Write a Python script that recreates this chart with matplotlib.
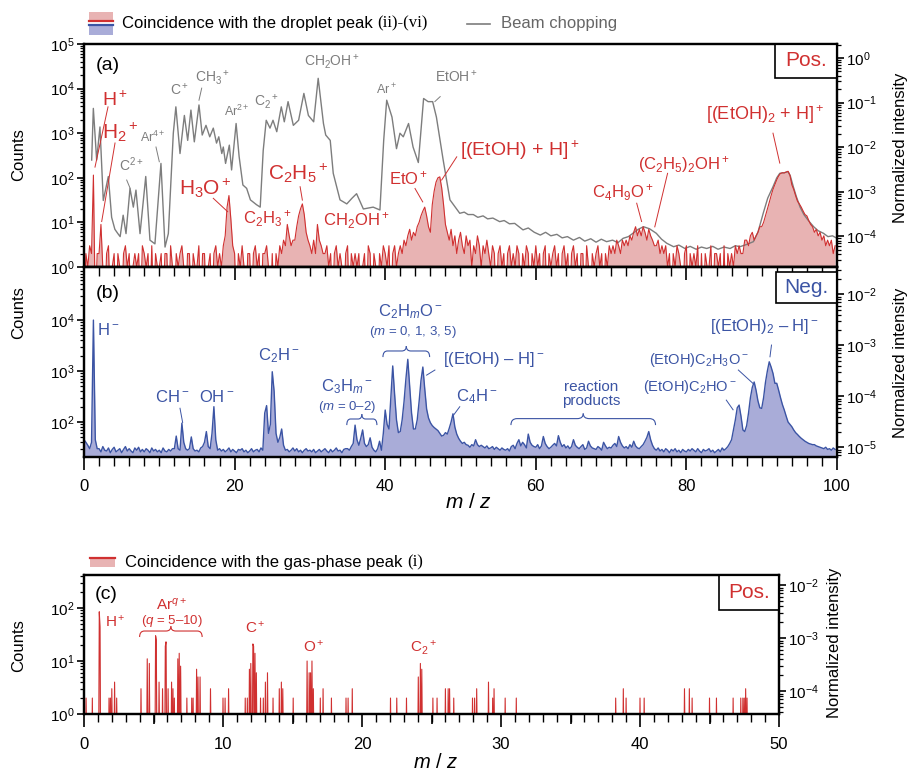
import numpy as np
import matplotlib
matplotlib.use("Agg")
import matplotlib.pyplot as plt
from matplotlib.path import Path
from matplotlib.patches import PathPatch, Rectangle
from matplotlib.lines import Line2D
from matplotlib.transforms import blended_transform_factory
from matplotlib.ticker import LogLocator, MultipleLocator, NullFormatter, NullLocator

plt.rcParams['font.family'] = ['Liberation Sans', 'DejaVu Sans']
plt.rcParams['mathtext.fontset'] = 'custom'
plt.rcParams['mathtext.rm'] = 'Liberation Sans'
plt.rcParams['mathtext.it'] = 'Liberation Sans:italic'
plt.rcParams['mathtext.bf'] = 'Liberation Sans:bold'

RED = '#d03030'
PINK = '#e8b3b3'
BLUE = '#3b54a4'
LAV = '#a9acd8'
GRAY = '#7d7d7d'

# ---------------- data ----------------
MZ_STEP = 0.25  # bin width of the (a) and (b) spectra

# (a) cations coincident with the droplet peak, counts per bin, m/z 0..99.75
drop_counts = [
    0, 2, 1, 3, 2, 115, 0, 2, 2, 9, 1, 0, 2, 3, 0, 1, 2, 0, 2, 1,
    0, 2, 3, 1, 2, 0, 1, 2, 1, 2, 0, 3, 2, 1, 2, 0, 3, 0, 2, 1,
    1, 2, 0, 2, 2, 0, 3, 1, 0, 2, 1, 2, 3, 1, 0, 2, 2, 0, 2, 1,
    1, 3, 0, 2, 2, 0, 1, 2, 0, 2, 3, 1, 2, 1, 3, 5, 22, 40, 12, 3,
    2, 0, 2, 1, 3, 1, 0, 2, 2, 0, 2, 3, 1, 2, 0, 2, 2, 3, 1, 0,
    2, 0, 2, 1, 3, 2, 4, 3, 9, 5, 3, 4, 4, 8, 14, 20, 26, 15, 6, 4,
    3, 2, 4, 2, 9, 4, 3, 2, 2, 3, 1, 2, 0, 2, 3, 1, 2, 1, 0, 2,
    3, 0, 2, 1, 2, 1, 2, 0, 1, 2, 0, 3, 2, 0, 2, 1, 0, 2, 1, 3,
    2, 1, 3, 0, 2, 3, 1, 2, 3, 2, 4, 3, 5, 7, 4, 6, 5, 8, 10, 14,
    18, 22, 14, 8, 6, 25, 50, 80, 100, 105, 60, 25, 9, 6, 4, 7, 3, 5, 2, 4,
    6, 3, 2, 5, 3, 4, 1, 3, 2, 5, 3, 1, 3, 2, 4, 2, 1, 3, 2, 0,
    2, 3, 1, 2, 0, 2, 3, 1, 2, 1, 3, 2, 0, 2, 1, 3, 2, 0, 2, 1,
    3, 1, 2, 0, 2, 3, 0, 2, 1, 2, 3, 1, 2, 0, 2, 3, 1, 2, 0, 2,
    3, 1, 2, 0, 2, 2, 0, 3, 1, 0, 2, 1, 2, 3, 1, 2, 0, 2, 1, 3,
    2, 3, 2, 4, 3, 2, 4, 3, 4, 3, 5, 4, 6, 8, 5, 7, 5, 8, 6, 4,
    7, 5, 4, 3, 3, 4, 2, 3, 2, 3, 1, 2, 0, 2, 1, 3, 2, 1, 0, 2,
    3, 0, 2, 1, 2, 1, 3, 0, 2, 0, 2, 1, 1, 3, 0, 2, 2, 1, 2, 0,
    3, 0, 2, 1, 2, 1, 3, 2, 3, 2, 2, 4, 4, 3, 5, 6, 4, 5, 6, 8,
    8, 10, 14, 20, 28, 40, 55, 70, 90, 110, 125, 130, 128, 135, 140, 115, 70, 55, 40, 30,
    26, 22, 18, 15, 14, 11, 9, 8, 6, 7, 5, 6, 4, 5, 3, 4, 3, 4, 2, 3,
]

# (a) beam-chopping spectrum (m/z, counts)
chop_mz = [
    1.02, 1.24, 1.68, 2.12, 2.56, 3.23, 3.67, 4.1, 4.5, 4.8, 5.2, 5.58, 6.11, 6.55, 6.9,
    7.44, 8.2, 8.76, 9.42, 10.22, 10.76, 11.2, 11.86, 12.2, 12.75, 13.33, 13.77, 14.2, 14.65,
    15.27, 15.7, 16.2, 16.7, 17.17, 17.6, 17.9, 18.3, 18.5, 18.8, 19.3, 19.6, 20.2, 20.6,
    21.1, 21.6, 22.1, 22.9, 23.4, 23.8, 24.2, 24.7, 25.1, 25.6, 26.2, 26.6, 27.1, 27.8,
    28.5, 29.2, 29.8, 30.5, 31.1, 31.8, 32.1, 32.7, 33.1, 34.0, 34.9, 35.6, 36.2, 37.1,
    38.4, 39.3, 39.8, 40.2, 40.9, 41.5, 41.96, 42.4, 43.1, 43.7, 44.4, 45.1, 45.7, 46.3,
    46.8, 47.7, 48.6, 49.3, 49.9, 50.5, 51.0, 51.7, 52.3, 53.0, 53.6, 54.3, 55.2, 55.8,
    56.5, 57.2, 58.3, 59.0, 59.8, 60.6, 61.3, 62.0, 62.8, 63.5, 64.2, 65.0, 65.8, 66.5,
    67.3, 68.0, 68.7, 69.4, 70.2, 70.9, 71.6, 72.3, 72.9, 73.6, 74.3, 75.1, 76.0, 76.7,
    77.4, 78.3, 79.0, 79.8, 80.5, 81.3, 82.0, 82.7, 83.5, 84.2, 85.0, 85.8, 86.5, 87.1,
    88.0, 88.9, 89.5, 90.2, 90.8, 91.5, 92.0, 92.4, 93.0, 93.5, 93.8, 94.2, 94.6, 95.1,
    95.6, 96.2, 96.9, 97.5, 98.2, 98.8, 99.4, 100.0,
]
chop_counts = [
    250, 3600, 250, 1380, 31, 107, 13, 7, 5.6, 4.8, 14.5, 5.6, 58, 22, 53,
    5.6, 107, 4, 3.3, 210, 2.8, 5.6, 1000, 3900, 350, 2500, 690, 3300, 640,
    4300, 910, 1500, 830, 1300, 600, 830, 350, 490, 210, 540, 150, 1650, 300,
    69, 58, 32, 25, 22, 410, 1950, 1300, 1950, 1080, 3900, 1800, 5100, 1500,
    1950, 7800, 2500, 1800, 17000, 1650, 910, 690, 126, 32, 26, 35, 44, 20,
    22, 19, 690, 5500, 2300, 450, 1000, 830, 1650, 490, 220, 6000, 5100, 5100,
    2300, 250, 32, 22, 16, 17, 15, 15, 13, 14, 12, 12.5, 10.4, 11,
    9.3, 9.5, 6.8, 7.5, 6, 5.2, 6, 5, 5.4, 4.5, 4.8, 4.0, 4.6, 3.8,
    4.3, 3.6, 4.2, 3.7, 4.0, 3.5, 4.4, 4.8, 5.7, 7, 8, 7.2, 5.7, 4.2,
    3.4, 2.85, 3.1, 2.6, 2.9, 2.5, 2.8, 2.6, 2.9, 2.5, 2.8, 2.6, 3.0, 2.85,
    3.2, 3.7, 6, 16, 35, 63, 100, 126, 130, 137, 110, 63, 38, 22,
    15, 11, 8, 6.5, 5.7, 4.8, 5, 4.4,
]

# (b) anions coincident with the droplet peak, counts per bin, m/z 0..99.75
anion_counts = [
    45, 40, 35, 30, 40, 10000, 45, 30, 30, 26, 33, 28, 27, 31, 25, 29, 32, 26, 28, 30,
    25, 29, 33, 27, 30, 27, 25, 31, 28, 32, 26, 29, 26, 30, 28, 25, 31, 27, 29, 26,
    28, 25, 31, 27, 26, 29, 27, 30, 30, 53, 30, 28, 95, 40, 30, 28, 30, 51, 30, 27,
    28, 26, 31, 33, 40, 65, 33, 30, 60, 200, 45, 28, 30, 27, 29, 26, 28, 31, 26, 29,
    27, 25, 29, 28, 30, 26, 28, 25, 27, 30, 26, 28, 29, 26, 31, 28, 150, 210, 60, 90,
    970, 400, 60, 40, 50, 73, 35, 28, 29, 26, 28, 31, 27, 30, 26, 28, 25, 28, 30, 27,
    28, 26, 29, 25, 27, 29, 26, 28, 30, 27, 25, 29, 26, 28, 31, 27, 28, 25, 29, 30,
    30, 28, 33, 38, 87, 45, 35, 48, 70, 38, 33, 36, 49, 32, 28, 26, 30, 42, 28, 60,
    172, 90, 73, 300, 1260, 350, 110, 62, 65, 110, 250, 700, 1700, 500, 150, 73, 73, 110, 250, 650,
    1200, 450, 180, 120, 97, 85, 78, 73, 68, 60, 53, 55, 62, 58, 75, 100, 145, 80, 58, 48,
    42, 38, 40, 36, 35, 32, 36, 34, 45, 36, 33, 35, 33, 31, 34, 30, 31, 33, 29, 32,
    30, 28, 31, 29, 28, 30, 27, 33, 35, 30, 38, 45, 34, 40, 36, 31, 58, 40, 35, 33,
    32, 36, 30, 34, 52, 38, 33, 30, 32, 35, 38, 34, 54, 40, 33, 36, 31, 34, 30, 33,
    45, 35, 32, 30, 33, 36, 29, 31, 42, 34, 31, 30, 29, 33, 31, 28, 40, 34, 30, 32,
    31, 35, 38, 33, 52, 40, 34, 31, 33, 30, 36, 32, 42, 34, 31, 30, 33, 36, 42, 50,
    65, 45, 35, 30, 28, 31, 27, 29, 26, 30, 28, 25, 29, 27, 30, 26, 28, 25, 29, 27,
    26, 29, 27, 30, 28, 26, 30, 27, 25, 29, 27, 28, 30, 26, 28, 25, 27, 29, 26, 31,
    28, 30, 33, 38, 45, 70, 110, 190, 215, 130, 70, 65, 85, 150, 300, 480, 610, 420, 260, 190,
    185, 300, 600, 1000, 1520, 1200, 900, 575, 575, 420, 300, 220, 172, 130, 100, 90, 81, 70, 62, 57,
    52, 48, 45, 42, 40, 38, 37, 36, 36, 34, 33, 32, 31, 30, 32, 29, 30, 28, 31, 29,
]

# (c) cations coincident with the gas-phase peak (m/z, counts), sparse
gas_mz = [
    0.14, 0.62, 1.08, 1.15, 1.8, 1.9, 2.0, 2.18, 2.35, 4.08, 4.56, 4.68, 5.16, 5.22, 5.42,
    5.64, 5.83, 5.9, 6.07, 6.3, 6.4, 6.52, 6.74, 6.86, 6.95, 7.4, 7.75, 7.87, 8.1, 8.2,
    8.35, 9.1, 10.0, 10.17, 10.4, 11.6, 11.77, 11.9, 12.0, 12.13, 12.2, 12.3, 12.4, 12.7,
    12.88, 13.07, 13.2, 13.6, 14.05, 14.2, 14.3, 15.06, 16.07, 16.2, 16.3, 16.4, 16.5,
    17.0, 17.2, 17.8, 18.85, 19.0, 19.3, 22.06, 22.5, 23.2, 24.05, 24.2, 24.3, 25.1, 25.4,
    26.0, 26.2, 26.3, 26.6, 27.96, 28.1, 28.25, 29.1, 29.4, 29.5, 30.3, 31.1, 38.25,
    38.8, 39.0, 40.0, 40.3, 43.2, 43.55, 43.75, 45.0, 45.5, 46.7, 47.27, 47.4, 47.5,
    47.6, 47.7,
]
gas_counts = [
    2, 2, 85, 44, 2, 2, 3, 4, 2, 3, 11, 9, 30, 25, 4,
    3, 19, 23, 3, 4, 3, 2, 11, 14, 8, 2, 2, 2, 7, 5,
    5, 3, 2, 2, 3, 2, 2, 7, 9, 21, 19, 14, 6, 2,
    2, 4, 6, 2, 3, 4, 3, 2, 10, 6, 6, 10, 3,
    2, 3, 2, 2, 2, 3, 2, 2, 2, 5, 9, 7, 2, 2,
    3, 3, 3, 2, 2, 2, 3, 4, 2, 3, 2, 2, 2,
    3, 2, 2, 2, 3, 3, 2, 2, 2, 2, 2, 2, 2,
    3, 2,
]

# counts -> normalized intensity
NORM_A = 4.85e4
NORM_B = 3.2e6
NORM_C = 2.7e4

# ---------------- figure ----------------
W, H = 909, 776
fig = plt.figure(figsize=(W / 100, H / 100), dpi=100)


def axes_px(left, top, right, bottom):
    return fig.add_axes([left / W, 1 - bottom / H, (right - left) / W, (bottom - top) / H])


def floor_zero(values, low=0.1):
    arr = np.asarray(values, dtype=float)
    return np.where(arr > 0, arr, low)


def style_counts(ax, ylim, norm, yticks=None):
    ax.set_yscale('log')
    ax.set_ylim(*ylim)
    if yticks is not None:
        ax.set_yticks(yticks)
    ax.yaxis.set_minor_locator(LogLocator(base=10, subs=np.arange(2, 10), numticks=50))
    ax.yaxis.set_minor_formatter(NullFormatter())
    ax.tick_params(axis='y', which='major', direction='out', length=5, width=1.2,
                   labelsize=11, pad=2)
    ax.tick_params(axis='y', which='minor', direction='out', length=3, width=0.9)
    for sp in ax.spines.values():
        sp.set_linewidth(1.6)
    tw = ax.twinx()
    tw.set_yscale('log')
    tw.set_ylim(ylim[0] / norm, ylim[1] / norm)
    tw.yaxis.set_minor_locator(LogLocator(base=10, subs=np.arange(2, 10), numticks=50))
    tw.yaxis.set_minor_formatter(NullFormatter())
    tw.tick_params(axis='y', which='major', direction='out', length=5, width=1.2,
                   labelsize=11, pad=1.5)
    tw.tick_params(axis='y', which='minor', direction='out', length=3, width=0.9)
    for sp in tw.spines.values():
        sp.set_linewidth(1.6)
    return tw


def brace(ax, x0, x1, y0, h, d, color):
    tr = blended_transform_factory(ax.transData, ax.transAxes)
    xm = (x0 + x1) / 2
    y1, y2 = y0 + h, y0 + 1.8 * h
    for xa, s in ((x0, 1), (x1, -1)):
        verts = [(xa, y0), (xa, y1), (xa + s * d, y1), (xm - s * d, y1), (xm, y1), (xm, y2)]
        codes = [Path.MOVETO, Path.CURVE3, Path.CURVE3, Path.LINETO, Path.CURVE3, Path.CURVE3]
        ax.add_patch(PathPatch(Path(verts, codes), transform=tr, fc='none', ec=color,
                               lw=0.8, clip_on=False))


def label(ax, x, logy, s, color, size, **kw):
    ax.text(x, 10 ** logy, s, color=color, fontsize=size, ha='center', va='center', **kw)


def leader(ax, x1, logy1, x2, logy2, color):
    ax.plot([x1, x2], [10 ** logy1, 10 ** logy2], color=color, lw=0.7)


def tag_box(ax, x0, y0, y1, s, color):
    ax.add_patch(Rectangle((x0, y0), 1 - x0, y1 - y0, transform=ax.transAxes,
                           fc='white', ec='black', lw=1.2, zorder=5))
    ax.text((x0 + 1) / 2, (y0 + y1) / 2, s, transform=ax.transAxes, color=color,
            fontsize=15, ha='center', va='center', zorder=6)


# ---------- panel (a) ----------
ax_a = axes_px(84, 44, 837, 267)
drop_mz = np.arange(len(drop_counts)) * MZ_STEP
ax_a.fill_between(drop_mz, 0.1, floor_zero(drop_counts), color=PINK, lw=0)
ax_a.plot(chop_mz, chop_counts, color=GRAY, lw=1.0)
ax_a.plot(drop_mz, floor_zero(drop_counts), color=RED, lw=0.8)
ax_a.set_xlim(0, 100)
ax_a.tick_params(axis='x', which='both', bottom=False, labelbottom=False)
style_counts(ax_a, (1, 1e5), NORM_A)
ax_a.text(0.016, 0.905, '(a)', transform=ax_a.transAxes, fontsize=14, va='center')
tag_box(ax_a, 0.918, 0.848, 1.0, 'Pos.', RED)

# gray (beam chopping) assignments
for s, x, y, fs in [('C$^{2+}$', 6.3, 2.29, 10), ('Ar$^{4+}$', 9.2, 2.91, 9),
                    ('C$^+$', 12.75, 3.97, 10), ('CH$_3$$^+$', 17.1, 4.24, 10),
                    ('Ar$^{2+}$', 20.3, 3.48, 9), ('C$_2$$^+$', 24.3, 3.71, 10),
                    ('CH$_2$OH$^+$', 32.9, 4.60, 10), ('Ar$^+$', 40.2, 3.98, 9),
                    ('EtOH$^+$', 49.5, 4.27, 10)]:
    label(ax_a, x, y, s, GRAY, fs)
leader(ax_a, 5.67, 1.95, 6.11, 1.77, GRAY)
leader(ax_a, 9.56, 2.69, 10.0, 2.36, GRAY)
leader(ax_a, 15.63, 4.01, 15.27, 3.74, GRAY)
leader(ax_a, 47.3, 3.82, 46.6, 3.71, GRAY)

# red (droplet) assignments
for s, x, y, fs in [('H$^+$', 4.1, 3.74, 14), ('H$_2$$^+$', 4.8, 3.03, 15),
                    ('H$_3$O$^+$', 16.07, 1.77, 15), ('C$_2$H$_3$$^+$', 24.3, 1.09, 12),
                    ('C$_2$H$_5$$^+$', 28.46, 2.10, 15), ('CH$_2$OH$^+$', 36.2, 1.05, 12),
                    ('EtO$^+$', 43.07, 1.99, 12), ('[(EtOH) + H]$^+$', 57.9, 2.62, 14),
                    ('C$_4$H$_9$O$^+$', 71.6, 1.67, 12), ('(C$_2$H$_5$)$_2$OH$^+$', 79.6, 2.29, 12),
                    ('[(EtOH)$_2$ + H]$^+$', 90.4, 3.41, 13)]:
    label(ax_a, x, y, s, RED, fs)
leader(ax_a, 3.19, 3.59, 1.46, 2.24, RED)
leader(ax_a, 4.12, 2.78, 2.35, 1.02, RED)
leader(ax_a, 17.17, 1.54, 19.08, 1.24, RED)
leader(ax_a, 28.7, 1.80, 29.0, 1.50, RED)
leader(ax_a, 43.96, 1.76, 44.98, 1.46, RED)
leader(ax_a, 49.5, 2.47, 47.5, 1.95, RED)
leader(ax_a, 73.4, 1.43, 74.05, 1.02, RED)
leader(ax_a, 77.5, 2.10, 75.8, 0.90, RED)
leader(ax_a, 91.5, 3.0, 92.4, 2.33, RED)

# ---------- panel (b) ----------
ax_b = axes_px(84, 267, 837, 457)
anion_mz = np.arange(len(anion_counts)) * MZ_STEP
ax_b.fill_between(anion_mz, 1, anion_counts, color=LAV, lw=0)
ax_b.plot(anion_mz, anion_counts, color=BLUE, lw=1.0)
ax_b.set_xlim(0, 100)
ax_b.xaxis.set_major_locator(MultipleLocator(20))
ax_b.xaxis.set_minor_locator(MultipleLocator(2))
ax_b.tick_params(axis='x', which='major', direction='out', length=9.5, width=1.2,
                 labelsize=12, pad=6)
ax_b.tick_params(axis='x', which='minor', direction='out', length=6.5, width=1.0)
style_counts(ax_b, (20.6, 1.1e5), NORM_B, yticks=[1e2, 1e3, 1e4])
top_b = ax_b.secondary_xaxis('top')
top_b.xaxis.set_major_locator(MultipleLocator(20))
top_b.xaxis.set_minor_locator(MultipleLocator(2))
top_b.xaxis.set_major_formatter(NullFormatter())
top_b.tick_params(axis='x', which='major', direction='in', length=9.5, width=1.2)
top_b.tick_params(axis='x', which='minor', direction='in', length=6.5, width=1.0)
top_b.spines['top'].set_linewidth(1.6)
ax_b.text(0.016, 0.86, '(b)', transform=ax_b.transAxes, fontsize=14, va='center')
tag_box(ax_b, 0.919, 0.811, 0.972, 'Neg.', BLUE)

for s, x, y, fs in [('H$^-$', 3.23, 3.80, 12), ('CH$^-$', 11.65, 2.50, 12),
                    ('OH$^-$', 17.6, 2.50, 12), ('C$_2$H$^-$', 25.8, 3.31, 12),
                    ('C$_3$H$_m$$^-$', 34.9, 2.69, 12), ('($m$ = 0–2)', 34.9, 2.30, 9.5),
                    ('C$_2$H$_m$O$^-$', 43.3, 4.16, 12), ('($m$ = 0, 1, 3, 5)', 43.7, 3.77, 9.5),
                    ('[(EtOH) – H]$^-$', 54.4, 3.22, 12), ('C$_4$H$^-$', 52.1, 2.50, 12),
                    ('reaction\nproducts', 67.4, 2.55, 11),
                    ('(EtOH)C$_2$H$_3$O$^-$', 81.6, 3.22, 10.5),
                    ('(EtOH)C$_2$HO$^-$', 80.5, 2.69, 10.5),
                    ('[(EtOH)$_2$ – H]$^-$', 90.4, 3.87, 12)]:
    label(ax_b, x, y, s, BLUE, fs, linespacing=1.0)
leader(ax_b, 12.75, 2.27, 13.1, 1.99, BLUE)
leader(ax_b, 46.6, 3.02, 45.5, 2.92, BLUE)
leader(ax_b, 49.9, 2.30, 49.1, 2.14, BLUE)
leader(ax_b, 86.9, 3.02, 88.9, 2.75, BLUE)
leader(ax_b, 85.3, 2.43, 86.2, 2.24, BLUE)
leader(ax_b, 91.3, 3.51, 91.1, 3.28, BLUE)
brace(ax_b, 34.9, 38.9, 0.168, 0.032, 0.5, BLUE)
brace(ax_b, 39.7, 45.9, 0.526, 0.032, 0.6, BLUE)
brace(ax_b, 56.7, 75.9, 0.168, 0.034, 0.8, BLUE)

# ---------- panel (c) ----------
ax_c = axes_px(84, 575, 779, 714)
gas_grid = np.round(np.arange(0, 50.0001, 0.05), 2)
gas_y = np.full_like(gas_grid, 0.1)
gas_y[np.round(np.asarray(gas_mz) / 0.05).astype(int)] = gas_counts
ax_c.fill_between(gas_grid, 0.1, gas_y, color=PINK, lw=0)
ax_c.plot(gas_grid, gas_y, color=RED, lw=0.8)
ax_c.set_xlim(0, 50)
ax_c.xaxis.set_major_locator(MultipleLocator(10))
ax_c.xaxis.set_minor_locator(MultipleLocator(1))
ax_c.tick_params(axis='x', which='major', direction='out', length=9.5, width=1.2,
                 labelsize=12, pad=7)
ax_c.tick_params(axis='x', which='minor', direction='out', length=5.5, width=1.0)
mid_c = ax_c.secondary_xaxis('bottom')
mid_c.set_xticks([5, 15, 25, 35, 45])
mid_c.xaxis.set_major_formatter(NullFormatter())
mid_c.xaxis.set_minor_locator(NullLocator())
mid_c.tick_params(axis='x', direction='out', length=7.5, width=1.2)
mid_c.spines['bottom'].set_visible(False)
style_counts(ax_c, (1, 420), NORM_C)
ax_c.text(0.016, 0.86, '(c)', transform=ax_c.transAxes, fontsize=14, va='center')
tag_box(ax_c, 0.913, 0.748, 1.0, 'Pos.', RED)

for s, x, y, fs in [('H$^+$', 2.23, 1.74, 11), ('Ar$^{q+}$', 6.31, 2.06, 11),
                    ('($q$ = 5–10)', 6.31, 1.75, 9.5), ('C$^+$', 12.3, 1.64, 11),
                    ('O$^+$', 16.5, 1.27, 11), ('C$_2$$^+$', 24.4, 1.24, 11)]:
    label(ax_c, x, y, s, RED, fs)
brace(ax_c, 4.0, 8.5, 0.554, 0.043, 0.35, RED)

# ---------- axis titles ----------
for py in (155, 313, 646):
    fig.text(19 / W, 1 - py / H, 'Counts', rotation=90, fontsize=12, ha='center', va='center')
for px, py in ((900, 148), (900, 363), (835, 643)):
    fig.text(px / W, 1 - py / H, 'Normalized intensity', rotation=90, fontsize=12,
             ha='center', va='center')
fig.text(468 / W, 1 - 503 / H, '$m$ / $z$', fontsize=15, ha='center', va='center')
fig.text(436 / W, 1 - 763 / H, '$m$ / $z$', fontsize=14.5, ha='center', va='center')

# ---------- legends (drawn in figure pixels) ----------
def fig_rect(l, t, r, b, color):
    fig.add_artist(Rectangle((l / W, 1 - b / H), (r - l) / W, (b - t) / H,
                             transform=fig.transFigure, fc=color, ec='none'))


def fig_line(l, r, py, color, lw):
    fig.add_artist(Line2D([l / W, r / W], [1 - py / H, 1 - py / H],
                          transform=fig.transFigure, color=color, lw=lw))


fig_rect(89, 12, 113, 21, PINK)
fig_line(89, 113, 21, RED, 1.6)
fig_line(89, 113, 24.5, BLUE, 1.6)
fig_rect(89, 25.5, 113, 34.5, LAV)
t1 = fig.text(122 / W, 1 - 23.5 / H, 'Coincidence with the droplet peak ', fontsize=12,
              va='center')
ax_a.annotate('(ii)-(vi)', xy=(1, 0.5), xycoords=t1, va='center', ha='left', fontsize=12,
              family='Liberation Serif', annotation_clip=False)
fig_line(467, 490, 24, GRAY, 1.2)
fig.text(501 / W, 1 - 23.5 / H, 'Beam chopping', fontsize=12, va='center', color='#666666')

fig_rect(90, 557, 115, 567, PINK)
fig_line(90, 115, 557.5, RED, 1.6)
t2 = fig.text(125 / W, 1 - 562 / H, 'Coincidence with the gas-phase peak ', fontsize=12,
              va='center')
ax_c.annotate('(i)', xy=(1, 0.5), xycoords=t2, va='center', ha='left', fontsize=12,
              family='Liberation Serif', annotation_clip=False)

fig.savefig('out.png', dpi=100)
